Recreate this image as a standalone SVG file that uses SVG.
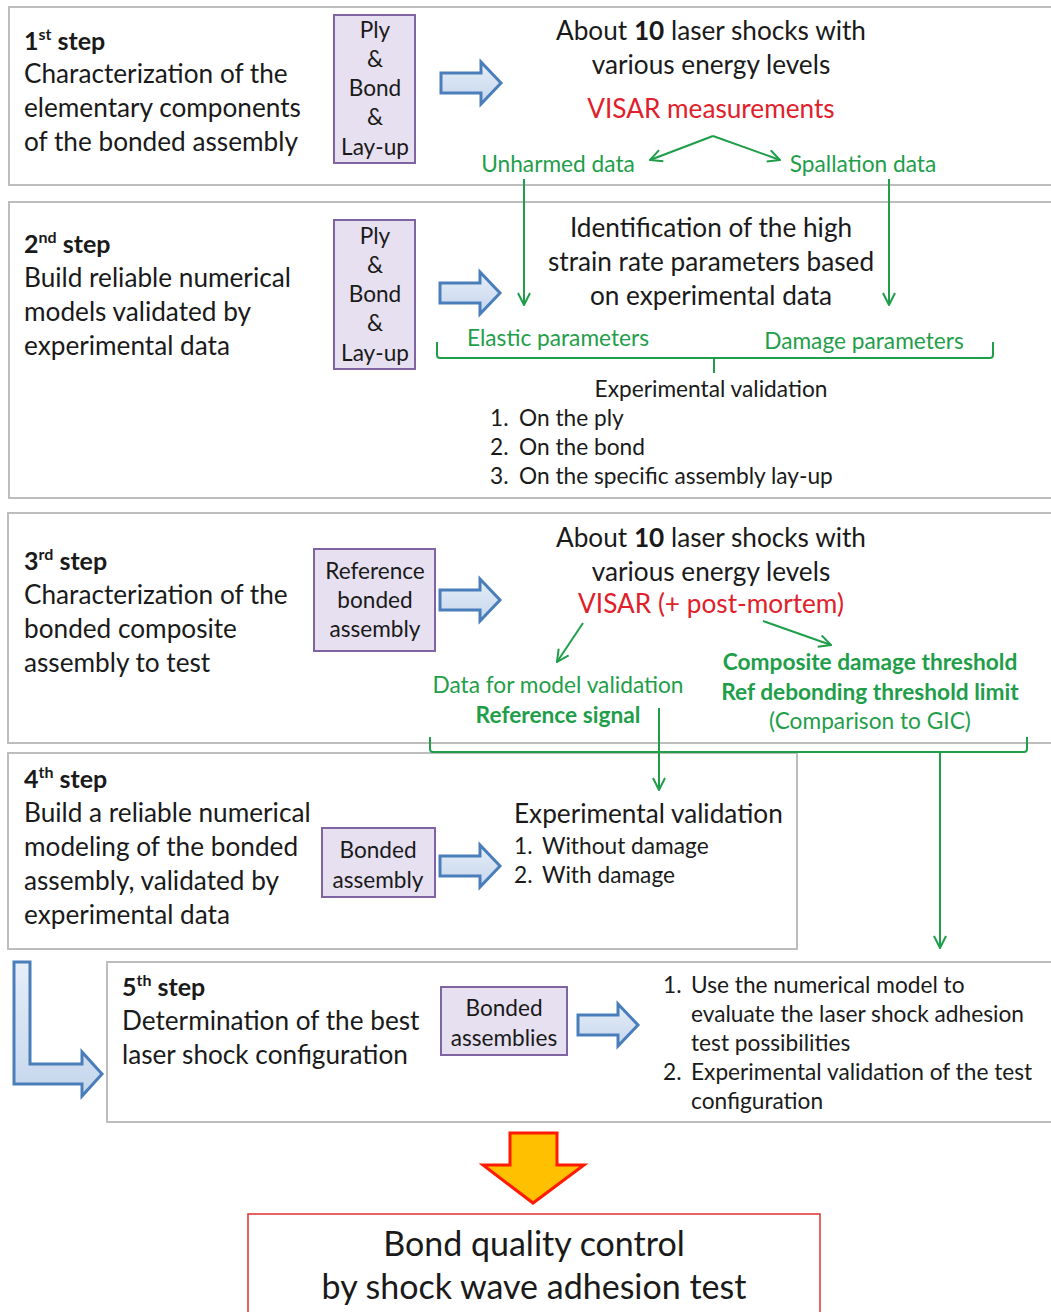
<svg xmlns="http://www.w3.org/2000/svg" width="1051" height="1312" viewBox="0 0 1051 1312">
<defs>
<linearGradient id="bg" x1="0" y1="0" x2="0" y2="1"><stop offset="0" stop-color="#e6eef8"/><stop offset="1" stop-color="#c5d6ec"/></linearGradient>
<marker id="ah" viewBox="0 0 14 14" refX="13" refY="7" markerWidth="14" markerHeight="14" markerUnits="userSpaceOnUse" orient="auto"><path d="M1,1 L13,7 L1,13" fill="none" stroke="#1f9e4a" stroke-width="2"/></marker>
<path id="barrow" d="M0,11 L40,11 L40,0 L60,21 L40,42 L40,31 L0,31 Z"/>
</defs>
<style>
.box{fill:#fff;stroke:#bdbdbd;stroke-width:2}
.pbox{fill:#e6e0f0;stroke:#8064a2;stroke-width:2}
.t{font-family:Lato,"Liberation Sans",sans-serif;fill:#1a1a1a}
.b{font-size:26.2px}
.h{font-size:25px;font-weight:bold}
.p{font-size:22.6px;text-anchor:middle}
.c{text-anchor:middle}
.g{fill:#1f9e4a}
.r{fill:#e0202a}
.s{font-size:22.7px}
.ln{fill:none;stroke:#1f9e4a;stroke-width:2}
.blue{fill:url(#bg);stroke:#4a7ebb;stroke-width:3}
</style>
<rect width="1051" height="1312" fill="#fff"/>

<g id="step1">
<rect class="box" x="9" y="7" width="1050" height="178"/>
<text class="t h" x="24" y="50">1<tspan font-size="16" dy="-10">st</tspan><tspan dy="10"> step</tspan></text>
<text class="t b" x="24" y="83">Characterization of the</text>
<text class="t b" x="24" y="117">elementary components</text>
<text class="t b" x="24" y="151">of the bonded assembly</text>
<rect class="pbox" x="334" y="15" width="81" height="148"/>
<text class="t p" x="375" y="38">Ply</text>
<text class="t p" x="375" y="67">&amp;</text>
<text class="t p" x="375" y="96">Bond</text>
<text class="t p" x="375" y="125">&amp;</text>
<text class="t p" x="375" y="155">Lay-up</text>
<use href="#barrow" class="blue" x="441" y="62"/>
<text class="t b c" x="711" y="40">About <tspan font-weight="bold">10</tspan> laser shocks with</text>
<text class="t b c" x="711" y="74">various energy levels</text>
<text class="t b c r" x="711" y="118">VISAR measurements</text>
<text class="t s c g" x="558" y="172">Unharmed data</text>
<text class="t s c g" x="863" y="172">Spallation data</text>
</g>

<g id="step2">
<rect class="box" x="9" y="202" width="1050" height="296"/>
<text class="t h" x="24" y="253">2<tspan font-size="16" dy="-10">nd</tspan><tspan dy="10"> step</tspan></text>
<text class="t b" x="24" y="287">Build reliable numerical</text>
<text class="t b" x="24" y="321">models validated by</text>
<text class="t b" x="24" y="355">experimental data</text>
<rect class="pbox" x="334" y="220" width="81" height="149"/>
<text class="t p" x="375" y="244">Ply</text>
<text class="t p" x="375" y="273">&amp;</text>
<text class="t p" x="375" y="302">Bond</text>
<text class="t p" x="375" y="331">&amp;</text>
<text class="t p" x="375" y="361">Lay-up</text>
<use href="#barrow" class="blue" x="440" y="272"/>
<text class="t b c" x="711" y="237">Identification of the high</text>
<text class="t b c" x="711" y="271">strain rate parameters based</text>
<text class="t b c" x="711" y="305">on experimental data</text>
<text class="t s c g" x="558" y="346">Elastic parameters</text>
<text class="t s c g" x="864" y="349">Damage parameters</text>
<text class="t s c" x="711" y="397">Experimental validation</text>
<text class="t s" x="490" y="426">1.</text><text class="t s" x="519" y="426">On the ply</text>
<text class="t s" x="490" y="455">2.</text><text class="t s" x="519" y="455">On the bond</text>
<text class="t s" x="490" y="484">3.</text><text class="t s" x="519" y="484">On the specific assembly lay-up</text>
</g>

<g id="step3">
<rect class="box" x="8" y="513" width="1050" height="230"/>
<text class="t h" x="24" y="570">3<tspan font-size="16" dy="-10">rd</tspan><tspan dy="10"> step</tspan></text>
<text class="t b" x="24" y="604">Characterization of the</text>
<text class="t b" x="24" y="638">bonded composite</text>
<text class="t b" x="24" y="672">assembly to test</text>
<rect class="pbox" x="314" y="549" width="121" height="102"/>
<text class="t p" x="375" y="579">Reference</text>
<text class="t p" x="375" y="608">bonded</text>
<text class="t p" x="375" y="637">assembly</text>
<use href="#barrow" class="blue" x="440" y="579"/>
<text class="t b c" x="711" y="547">About <tspan font-weight="bold">10</tspan> laser shocks with</text>
<text class="t b c" x="711" y="581">various energy levels</text>
<text class="t b c r" x="711" y="613">VISAR (+ post-mortem)</text>
<text class="t s c g" x="558" y="693">Data for model validation</text>
<text class="t s c g" x="558" y="723" font-weight="bold">Reference signal</text>
<text class="t s c g" x="870" y="670" font-weight="bold">Composite damage threshold</text>
<text class="t s c g" x="870" y="700" font-weight="bold">Ref debonding threshold limit</text>
<text class="t s c g" x="870" y="729">(Comparison to GIC)</text>
</g>

<g id="step4">
<rect class="box" x="8" y="753" width="789" height="196"/>
<text class="t h" x="24" y="788">4<tspan font-size="16" dy="-10">th</tspan><tspan dy="10"> step</tspan></text>
<text class="t b" x="24" y="822">Build a reliable numerical</text>
<text class="t b" x="24" y="856">modeling of the bonded</text>
<text class="t b" x="24" y="890">assembly, validated by</text>
<text class="t b" x="24" y="924">experimental data</text>
<rect class="pbox" x="322" y="828" width="113" height="69"/>
<text class="t p" x="378" y="858">Bonded</text>
<text class="t p" x="378" y="888">assembly</text>
<use href="#barrow" class="blue" x="440" y="845"/>
<text class="t b" x="514" y="823">Experimental validation</text>
<text class="t s" x="514" y="854">1.</text><text class="t s" x="542" y="854">Without damage</text>
<text class="t s" x="514" y="883">2.</text><text class="t s" x="542" y="883">With damage</text>
</g>

<g id="step5">
<rect class="box" x="107" y="962" width="950" height="160"/>
<text class="t h" x="122" y="996">5<tspan font-size="16" dy="-10">th</tspan><tspan dy="10"> step</tspan></text>
<text class="t b" x="122" y="1030">Determination of the best</text>
<text class="t b" x="122" y="1064">laser shock configuration</text>
<rect class="pbox" x="441" y="987" width="126" height="68"/>
<text class="t p" x="504" y="1016">Bonded</text>
<text class="t p" x="504" y="1046">assemblies</text>
<use href="#barrow" class="blue" x="578" y="1004"/>
<text class="t s" x="663" y="993">1.</text><text class="t s" x="691" y="993">Use the numerical model to</text>
<text class="t s" x="691" y="1022">evaluate the laser shock adhesion</text>
<text class="t s" x="691" y="1051">test possibilities</text>
<text class="t s" x="663" y="1080">2.</text><text class="t s" x="691" y="1080">Experimental validation of the test</text>
<text class="t s" x="691" y="1109">configuration</text>
</g>

<g id="result">
<rect x="248" y="1214" width="572" height="110" fill="#fff" stroke="#e03030" stroke-width="1.5"/>
<text class="t c" x="534" y="1256" font-size="34">Bond quality control</text>
<text class="t c" x="534" y="1299" font-size="34">by shock wave adhesion test</text>
</g>

<g id="connectors">
<path class="ln" d="M713,136 L650,160" marker-end="url(#ah)"/>
<path class="ln" d="M713,136 L780,160" marker-end="url(#ah)"/>
<path class="ln" d="M524,179 V305" marker-end="url(#ah)"/>
<path class="ln" d="M889,179 V305" marker-end="url(#ah)"/>
<path class="ln" d="M437,342 V355 Q437,358 440,358 H990 Q993,358 993,355 V342 M714,358 V373"/>
<path class="ln" d="M583,623 L557,662" marker-end="url(#ah)"/>
<path class="ln" d="M763,621 L831,645" marker-end="url(#ah)"/>
<path class="ln" d="M659,708 V790" marker-end="url(#ah)"/>
<path class="ln" d="M430,737 V749 Q430,752 433,752 H1024 Q1027,752 1027,749 V737"/>
<path class="ln" d="M940,752 V948" marker-end="url(#ah)"/>
<path class="blue" d="M14,962 L30,962 L30,1064 L82,1064 L82,1052 L102,1074 L82,1096 L82,1084 L14,1084 Z"/>
<path d="M510,1133 L557,1133 L557,1165 L584,1165 L533,1203 L483,1165 L510,1165 Z" fill="#ffc000" stroke="#ff1a00" stroke-width="3" stroke-linejoin="miter"/>
</g>
</svg>
